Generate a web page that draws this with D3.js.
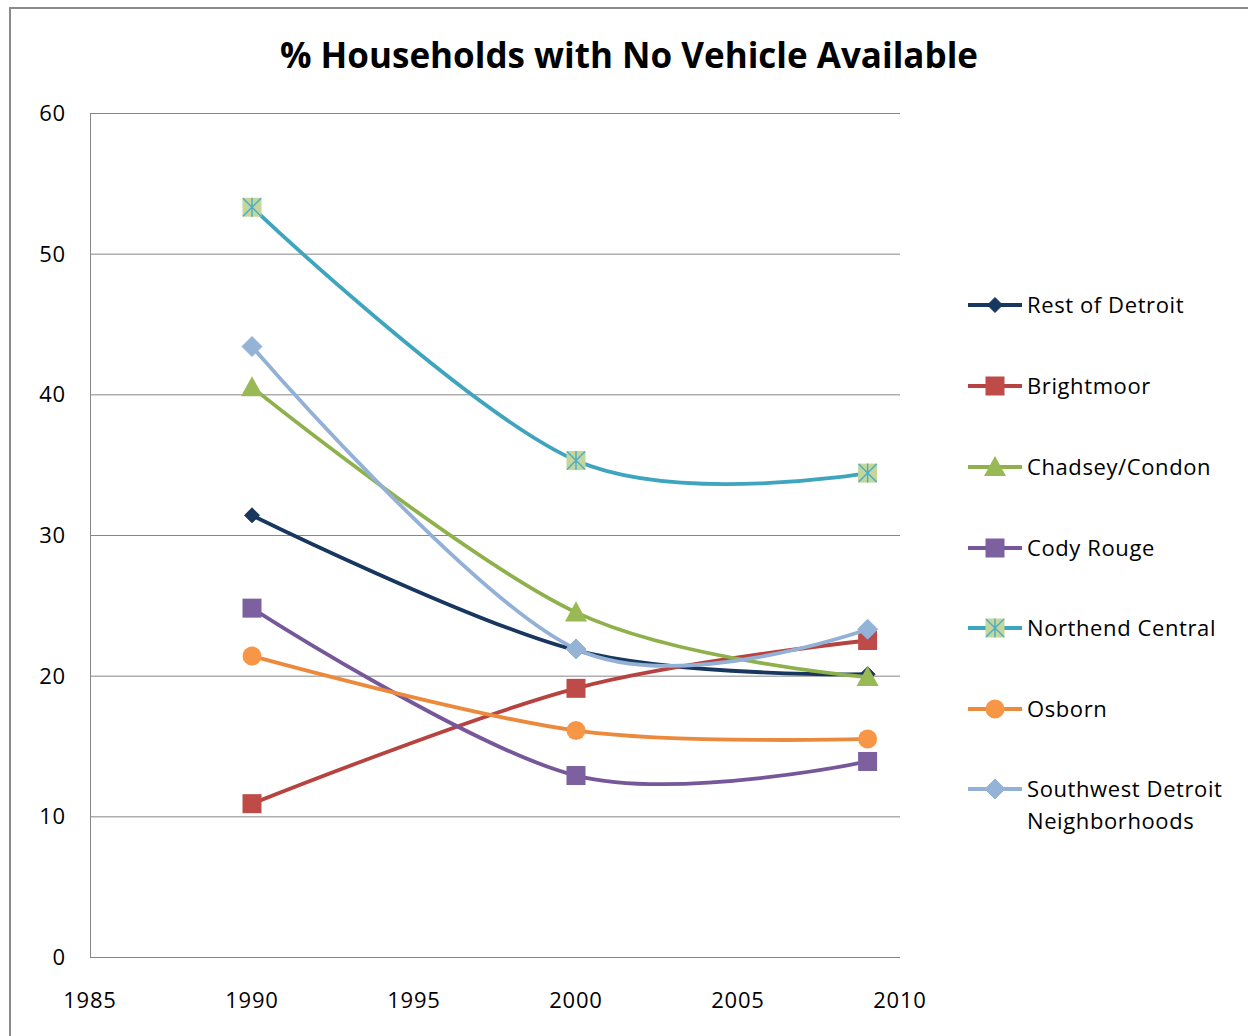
<!DOCTYPE html>
<html>
<head>
<meta charset="utf-8">
<script src="https://cdn.jsdelivr.net/npm/d3@7/dist/d3.min.js"></script>
<style>
  html, body { margin: 0; padding: 0; background: #fff; }
  svg { display: block; }
  text { font-family: "Open Sans", "Noto Sans", sans-serif; fill: #000; }
</style>
</head>
<body>
<svg id="chart" width="1248" height="1036"></svg>
<script>
// Survey years and the share of households without a vehicle (%)
const years = [1990, 2000, 2009];
const seriesNames = ["Rest of Detroit", "Brightmoor", "Chadsey/Condon", "Cody Rouge",
                     "Northend Central", "Osborn", "Southwest Detroit Neighborhoods"];
const restOfDetroit = [31.4, 21.8, 20.1];
const brightmoor    = [10.9, 19.1, 22.5];
const chadseyCondon = [40.5, 24.5, 19.9];
const codyRouge     = [24.8, 12.9, 13.9];
const northendCentral = [53.3, 35.3, 34.4];
const osborn        = [21.4, 16.1, 15.5];
const southwest     = [43.4, 21.9, 23.3];
const yTicks = [0, 10, 20, 30, 40, 50, 60];
const xTicks = [1985, 1990, 1995, 2000, 2005, 2010];

const seriesValues = [restOfDetroit, brightmoor, chadseyCondon, codyRouge, northendCentral, osborn, southwest];
const colors  = ["#17375E", "#BE4B48", "#98B954", "#7D60A0", "#4BACC6", "#F79646", "#95B3D7"];
const lineCol = ["#17375E", "#B6433F", "#8FB14C", "#76579A", "#3FA4BE", "#EB893D", "#93B1D6"];
const markers = ["diamond", "square", "triangle", "square", "star", "circle", "diamond"];
const markerR = [7.5, 9.5, 11, 9.5, 9.5, 9.5, 10];

const svg = d3.select("#chart");

// outer frame (top and left edges visible)
svg.append("path").attr("d", "M10,1036 V8 H1248")
  .attr("fill", "none").attr("stroke", "#8a8a8a").attr("stroke-width", 2);

const x = d3.scaleLinear().domain([1985, 2010]).range([90, 900]);
const y = d3.scaleLinear().domain([0, 60]).range([957, 113]);

// gridlines
svg.append("g").selectAll("line").data(yTicks.filter(d => d > 0)).join("line")
  .attr("x1", x(1985)).attr("x2", x(2010))
  .attr("y1", d => y(d) + 0.5).attr("y2", d => y(d) + 0.5)
  .attr("stroke", "#868686").attr("stroke-width", 1);

// axes lines
svg.append("line").attr("x1", x(1985) + 0.5).attr("x2", x(1985) + 0.5)
  .attr("y1", y(60)).attr("y2", y(0)).attr("stroke", "#868686");
svg.append("line").attr("x1", x(1985)).attr("x2", x(2010))
  .attr("y1", y(0) + 0.5).attr("y2", y(0) + 0.5).attr("stroke", "#868686");

// tick labels
svg.append("g").selectAll("text").data(yTicks).join("text")
  .attr("x", 66).attr("y", d => y(d) + 8)
  .attr("text-anchor", "end").attr("font-size", 22).attr("letter-spacing", 0.8).text(d => d);
svg.append("g").selectAll("text").data(xTicks).join("text")
  .attr("x", d => x(d)).attr("y", 1008)
  .attr("text-anchor", "middle").attr("font-size", 22).attr("letter-spacing", 0.8).text(d => d);

// title
svg.append("text").attr("x", 629).attr("y", 68)
  .attr("text-anchor", "middle").attr("font-size", 35).attr("font-weight", "bold")
  .text("% Households with No Vehicle Available");

function drawMarker(g, type, cx, cy, color, r) {
  if (type === "diamond") {
    g.append("path").attr("d", `M${cx},${cy - r}L${cx + r},${cy}L${cx},${cy + r}L${cx - r},${cy}Z`)
      .attr("fill", color).attr("stroke", color).attr("stroke-width", 1);
  } else if (type === "square") {
    g.append("rect").attr("x", cx - r).attr("y", cy - r).attr("width", 2 * r).attr("height", 2 * r)
      .attr("fill", color);
  } else if (type === "triangle") {
    g.append("path").attr("d", `M${cx},${cy - r}L${cx + r},${cy + r * 0.82}L${cx - r},${cy + r * 0.82}Z`)
      .attr("fill", color);
  } else if (type === "circle") {
    g.append("circle").attr("cx", cx).attr("cy", cy).attr("r", r).attr("fill", color);
  } else if (type === "star") {
    g.append("rect").attr("x", cx - r).attr("y", cy - r).attr("width", 2 * r).attr("height", 2 * r)
      .attr("fill", "#C3D69B");
    g.append("path")
      .attr("d", `M${cx - r + 0.5},${cy - r + 0.5}L${cx + r - 0.5},${cy + r - 0.5}M${cx + r - 0.5},${cy - r + 0.5}L${cx - r + 0.5},${cy + r - 0.5}M${cx},${cy - r}V${cy + r}`)
      .attr("stroke", color).attr("stroke-width", 1.4).attr("fill", "none");
  }
}

const line = d3.line()
  .x((d, i) => x(years[i]))
  .y(d => y(d))
  .curve(d3.curveCardinal.tension(0));

seriesValues.forEach((vals, s) => {
  const g = svg.append("g");
  g.append("path").datum(vals).attr("d", line)
    .attr("fill", "none").attr("stroke", lineCol[s]).attr("stroke-width", 3.8)
    .attr("stroke-linejoin", "round");
  vals.forEach((v, i) => drawMarker(g, markers[s], x(years[i]), y(v), colors[s], markerR[s]));
});

// legend
const legendY = [305, 386, 467, 548, 628, 709, 789];
seriesNames.forEach((name, s) => {
  const g = svg.append("g");
  const ly = legendY[s];
  g.append("line").attr("x1", 968).attr("x2", 1022).attr("y1", ly).attr("y2", ly)
    .attr("stroke", lineCol[s]).attr("stroke-width", 3.8);
  drawMarker(g, markers[s], 995, ly, colors[s], markerR[s]);
  const t = g.append("text").attr("x", 1027).attr("y", ly + 8)
    .attr("font-size", 22).attr("letter-spacing", 0.6);
  if (name === "Southwest Detroit Neighborhoods") {
    t.append("tspan").attr("x", 1027).text("Southwest Detroit");
    t.append("tspan").attr("x", 1027).attr("dy", 32).text("Neighborhoods");
  } else {
    t.text(name);
  }
});
</script>
</body>
</html>
